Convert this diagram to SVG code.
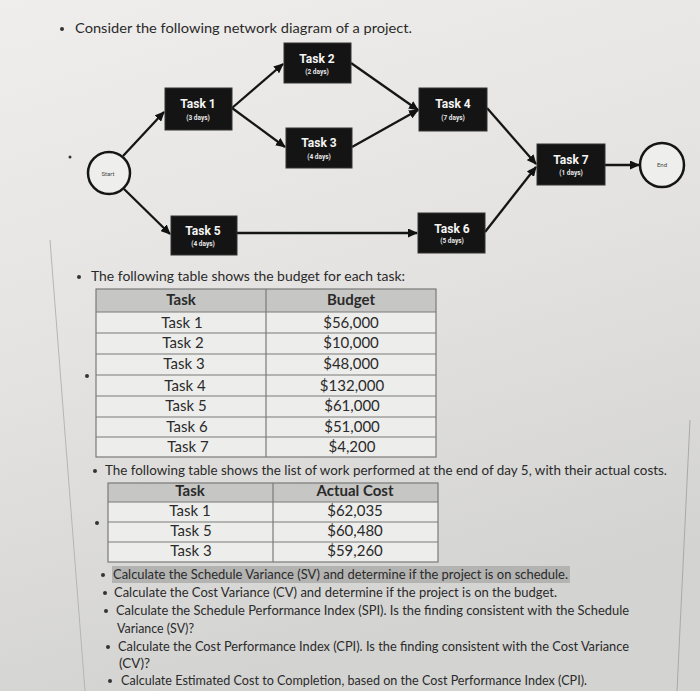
<svg xmlns="http://www.w3.org/2000/svg" width="700" height="691" viewBox="0 0 700 691">
<defs>
<linearGradient id="bg" x1="0" y1="0" x2="0.3" y2="1">
<stop offset="0" stop-color="#efeeec"/>
<stop offset="0.5" stop-color="#e4e3e1"/>
<stop offset="1" stop-color="#d3d3d1"/>
</linearGradient>
<marker id="ah" markerUnits="userSpaceOnUse" markerWidth="10" markerHeight="9" refX="9" refY="4.5" orient="auto">
<path d="M0,0 L10,4.5 L0,9 Z" fill="#111"/>
</marker>
<style>
.txt{font-family:Lato,"Open Sans",sans-serif;fill:#2a2a2a;font-size:14px}
.cell{font-family:Lato,"Open Sans",sans-serif;fill:#2a2a2a;font-size:15px;text-anchor:middle}
.hd{font-weight:bold}
.box{fill:#141414;stroke:#333;stroke-width:1}
.tn{font-family:Roboto,"DejaVu Sans",sans-serif;font-weight:bold;font-size:12px;fill:#f4f4f4;text-anchor:middle}
.td{font-family:Roboto,"DejaVu Sans",sans-serif;font-weight:bold;font-size:6.5px;fill:#e8e8e8;text-anchor:middle}
.circ{fill:#eeeeec;stroke:#151515;stroke-width:2.5}
.ct{font-family:Roboto,"DejaVu Sans",sans-serif;font-size:6px;fill:#444;text-anchor:middle}
.edge{stroke:#151515;stroke-width:2.3;fill:none;marker-end:url(#ah)}
.bul{fill:#333}
.th{fill:#c6c6c4}
.tr{fill:#ededeb}
.grid{stroke:#7a7a7a;stroke-width:1.2;fill:none}
</style>
</defs>
<rect width="700" height="691" fill="url(#bg)"/>
<line x1="50" y1="240" x2="85" y2="691" stroke="#b5b5b3" stroke-width="1"/>
<line x1="690" y1="420" x2="677" y2="691" stroke="#a9a9a7" stroke-width="1"/>

<circle class="bul" cx="62" cy="29" r="2"/>
<text class="txt" x="75" y="33" font-size="15" textLength="337" lengthAdjust="spacingAndGlyphs">Consider the following network diagram of a project.</text>
<circle class="bul" cx="70" cy="157" r="1.5"/>

<g id="connectors">
<line class="edge" x1="123" y1="156" x2="164" y2="112"/>
<line class="edge" x1="124" y1="189" x2="170" y2="234"/>
<line class="edge" x1="232" y1="108" x2="283" y2="64"/>
<line class="edge" x1="232" y1="108" x2="285" y2="147"/>
<line class="edge" x1="351" y1="63" x2="418" y2="110"/>
<line class="edge" x1="352" y1="147" x2="418" y2="110"/>
<line class="edge" x1="237" y1="233" x2="417" y2="233"/>
<line class="edge" x1="487" y1="108" x2="536" y2="164"/>
<line class="edge" x1="485" y1="232" x2="536" y2="167"/>
<line class="edge" x1="605" y1="165" x2="639" y2="165"/>
</g>

<g id="start"><circle class="circ" cx="109" cy="173" r="21"/><text class="ct" x="108" y="176">Start</text></g>
<g id="end"><circle class="circ" cx="662" cy="165" r="22"/><text class="ct" x="662" y="167">End</text></g>
<g id="task1"><rect class="box" x="165" y="88" width="67" height="42"/><text class="tn" x="198" y="108">Task 1</text><text class="td" x="198" y="120">(3 days)</text></g>
<g id="task2"><rect class="box" x="284" y="43" width="67" height="40"/><text class="tn" x="317" y="63">Task 2</text><text class="td" x="317" y="74">(2 days)</text></g>
<g id="task3"><rect class="box" x="286" y="128" width="66" height="40"/><text class="tn" x="319" y="147">Task 3</text><text class="td" x="319" y="159">(4 days)</text></g>
<g id="task4"><rect class="box" x="419" y="88" width="68" height="43"/><text class="tn" x="453" y="108">Task 4</text><text class="td" x="453" y="120">(7 days)</text></g>
<g id="task5"><rect class="box" x="171" y="216" width="66" height="39"/><text class="tn" x="203" y="235">Task 5</text><text class="td" x="203" y="246">(4 days)</text></g>
<g id="task6"><rect class="box" x="418" y="213" width="67" height="40"/><text class="tn" x="452" y="233">Task 6</text><text class="td" x="452" y="243">(5 days)</text></g>
<g id="task7"><rect class="box" x="537" y="144" width="68" height="41"/><text class="tn" x="571" y="164">Task 7</text><text class="td" x="571" y="175">(1 days)</text></g>

<circle class="bul" cx="79" cy="277" r="2"/>
<text class="txt" x="91" y="281" font-size="15" textLength="314" lengthAdjust="spacingAndGlyphs">The following table shows the budget for each task:</text>

<g id="budget-table">
<rect class="th" x="96" y="289" width="340" height="23"/>
<rect class="tr" x="96" y="312" width="340" height="145"/>
<rect class="grid" x="96" y="289" width="340" height="168"/>
<line class="grid" x1="266" y1="289" x2="266" y2="457"/>
<line class="grid" x1="96" y1="312" x2="436" y2="312"/>
<line class="grid" x1="96" y1="333" x2="436" y2="333"/>
<line class="grid" x1="96" y1="354" x2="436" y2="354"/>
<line class="grid" x1="96" y1="375" x2="436" y2="375"/>
<line class="grid" x1="96" y1="396" x2="436" y2="396"/>
<line class="grid" x1="96" y1="417" x2="436" y2="417"/>
<line class="grid" x1="96" y1="437" x2="436" y2="437"/>
<text class="cell hd" x="181" y="305">Task</text><text class="cell hd" x="351" y="305">Budget</text>
<text class="cell" x="182" y="328">Task 1</text><text class="cell" x="351" y="328">$56,000</text>
<text class="cell" x="183" y="348">Task 2</text><text class="cell" x="351" y="348">$10,000</text>
<text class="cell" x="184" y="369">Task 3</text><text class="cell" x="351" y="369">$48,000</text>
<text class="cell" x="185" y="391">Task 4</text><text class="cell" x="352" y="391">$132,000</text>
<text class="cell" x="186" y="411">Task 5</text><text class="cell" x="352" y="411">$61,000</text>
<text class="cell" x="187" y="432">Task 6</text><text class="cell" x="352" y="432">$51,000</text>
<text class="cell" x="188" y="452">Task 7</text><text class="cell" x="352" y="452">$4,200</text>
</g>
<circle class="bul" cx="87" cy="376" r="2"/>

<circle class="bul" cx="95" cy="471" r="2"/>
<text class="txt" x="105" y="475" textLength="562" lengthAdjust="spacingAndGlyphs">The following table shows the list of work performed at the end of day 5, with their actual costs.</text>

<g id="actual-table">
<rect class="th" x="108" y="483" width="330" height="19"/>
<rect class="tr" x="108" y="502" width="330" height="60"/>
<rect class="grid" x="108" y="483" width="330" height="79"/>
<line class="grid" x1="273" y1="483" x2="273" y2="562"/>
<line class="grid" x1="108" y1="502" x2="438" y2="502"/>
<line class="grid" x1="108" y1="522" x2="438" y2="522"/>
<line class="grid" x1="108" y1="542" x2="438" y2="542"/>
<text class="cell hd" x="190" y="496" font-size="14">Task</text><text class="cell hd" x="355" y="496" font-size="14">Actual Cost</text>
<text class="cell" x="190" y="516" font-size="14">Task 1</text><text class="cell" x="355" y="516" font-size="14">$62,035</text>
<text class="cell" x="191" y="536" font-size="14">Task 5</text><text class="cell" x="355" y="536" font-size="14">$60,480</text>
<text class="cell" x="191" y="556" font-size="14">Task 3</text><text class="cell" x="355" y="556" font-size="14">$59,260</text>
</g>
<circle class="bul" cx="97" cy="523" r="2"/>

<rect x="112" y="566" width="458" height="17" fill="#b3b3b1"/>
<circle class="bul" cx="103" cy="575" r="2"/>
<text class="txt" x="113" y="579" textLength="455" lengthAdjust="spacingAndGlyphs">Calculate the Schedule Variance (SV) and determine if the project is on schedule.</text>
<circle class="bul" cx="105" cy="593" r="2"/>
<text class="txt" x="114" y="597" textLength="443" lengthAdjust="spacingAndGlyphs">Calculate the Cost Variance (CV) and determine if the project is on the budget.</text>
<circle class="bul" cx="106" cy="611" r="2"/>
<text class="txt" x="116" y="615" textLength="513" lengthAdjust="spacingAndGlyphs">Calculate the Schedule Performance Index (SPI). Is the finding consistent with the Schedule</text>
<text class="txt" x="117" y="633" textLength="77" lengthAdjust="spacingAndGlyphs">Variance (SV)?</text>
<circle class="bul" cx="108" cy="647" r="2"/>
<text class="txt" x="118" y="651" textLength="511" lengthAdjust="spacingAndGlyphs">Calculate the Cost Performance Index (CPI). Is the finding consistent with the Cost Variance</text>
<text class="txt" x="119" y="668" textLength="31" lengthAdjust="spacingAndGlyphs">(CV)?</text>
<circle class="bul" cx="110" cy="681" r="2"/>
<text class="txt" x="121" y="685" textLength="466" lengthAdjust="spacingAndGlyphs">Calculate Estimated Cost to Completion, based on the Cost Performance Index (CPI).</text>
</svg>
